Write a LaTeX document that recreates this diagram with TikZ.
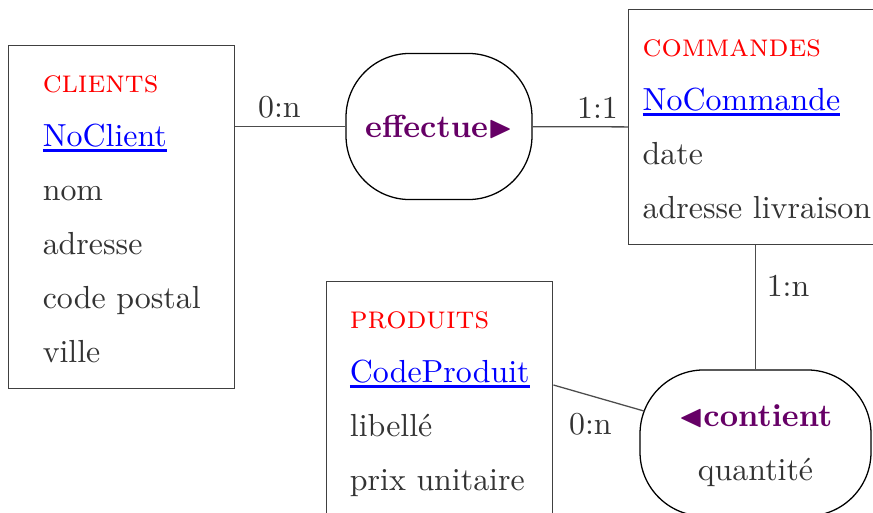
\documentclass[tikz,border=0pt]{standalone}
\usepackage{amssymb}
\usetikzlibrary{positioning,calc}
\definecolor{txtgray}{gray}{0.2}
\definecolor{relcol}{RGB}{102,0,102}
\renewcommand{\arraystretch}{1.41}
\newcommand{\pkey}[1]{\textcolor{blue}{\setbox0\hbox{#1}\rlap{\rule[-1.5pt]{\wd0}{0.8pt}}\box0}}
\newcommand{\ename}[1]{\textcolor{red}{\textsc{#1}}}
\tikzset{
  entity/.style={draw=black!75,anchor=north west,minimum width=70.9pt,
    inner xsep=4.4pt,inner ysep=3pt,text=txtgray},
  relation/.style={draw=black,rounded corners=20pt,minimum height=45.8pt,
    inner sep=3pt,text=txtgray},
  link/.style={draw=black!70},
  card/.style={text=txtgray,inner sep=3.33pt}
}
\begin{document}
\begin{tikzpicture}[x=0.31348pt,y=-0.31348pt]
            \useasboundingbox (0,0) rectangle (873,512);
            \clip (0,0) rectangle (873,512);
            % entites
            \node[entity] (clients) at (8,45)
            {\begin{tabular}{@{}l@{}}
              \ename{clients}\\ \pkey{NoClient}\\ nom\\ adresse\\ code postal\\ ville
            \end{tabular}};
            \node[entity] (commandes) at (628,9)
            {\begin{tabular}{@{}l@{}}
              \ename{commandes}\\ \pkey{NoCommande}\\ date\\ adresse livraison
            \end{tabular}};
            \node[entity] (produits) at (326,281)
            {\begin{tabular}{@{}l@{}}
              \ename{produits}\\ \pkey{CodeProduit}\\ libellé\\ prix unitaire
            \end{tabular}};
            % associations
            \node[relation,minimum width=58.3pt] (effectue) at (439,126.5)
            {\textcolor{relcol}{\textbf{effectue}$\blacktriangleright$}};
            \node[relation,minimum width=72.4pt] (contient) at (755.5,443)
            {\begin{tabular}{c}
              \textcolor{relcol}{$\blacktriangleleft$\textbf{contient}}\\ quantité
            \end{tabular}};
            % liens
            \coordinate (prodlink) at (produits.north east |- 0,385);
            \draw[link] (clients.east |- effectue) -- node[card,above,pos=0.4,yshift=-1pt] {0:n} (effectue);
            \draw[link] (effectue) -- node[card,above,pos=0.68,yshift=-1pt] {1:1} (commandes);
            \draw[link] (commandes.south -| contient) -- node[card,right,pos=0.33] {1:n} (contient);
            \draw[link,shorten >=-1.6pt] (prodlink) -- node[card,below,pos=0.43,yshift=-2pt] {0:n} (contient);
        \end{tikzpicture}
\end{document}
